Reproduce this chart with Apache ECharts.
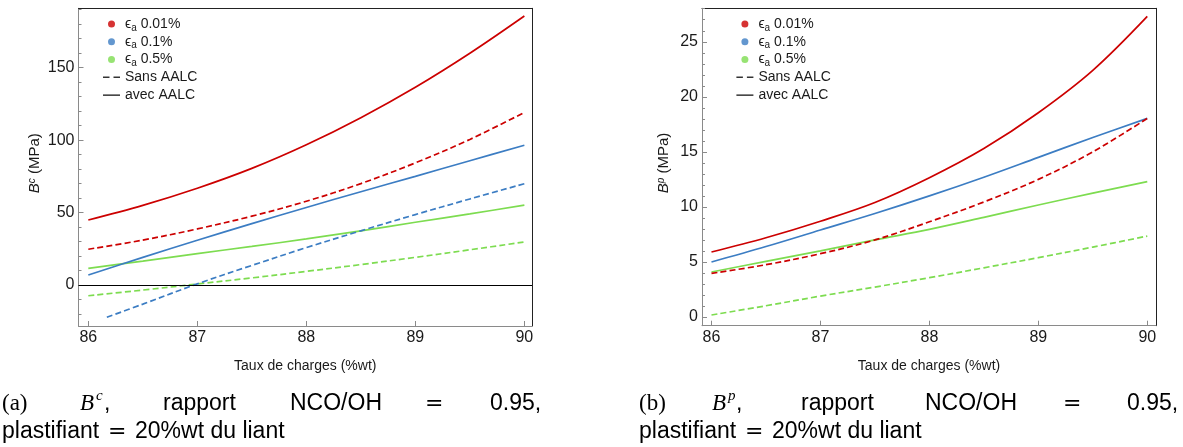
<!DOCTYPE html>
<html><head><meta charset="utf-8">
<script src="https://cdn.jsdelivr.net/npm/echarts@6/dist/echarts.min.js"></script>
<style>html,body{margin:0;padding:0;background:#fff}#c{width:1183px;height:447px}</style>
</head><body><div id="c"></div>
<script>
// ---------- data ----------
const xs = [86, 86.5, 87, 87.5, 88, 88.5, 89, 89.5, 90];
const xsBlueSansC = [86.17, 86.5, 87, 87.5, 88, 88.5, 89, 89.5, 90];

// (a) B^c (MPa)
const bcRedAvec   = [44.9, 55.0, 66.8, 80.5, 96.8, 115.5, 136.5, 160.0, 185.7];
const bcRedSans   = [24.7, 31.0, 38.7, 47.5, 57.8, 70.0, 84.3, 100.5, 119.1];
const bcBlueAvec  = [6.9, 19.1, 30.9, 42.4, 53.5, 64.4, 75.0, 85.8, 96.5];
const bcBlueSans  = [-22.3, -13.2, 0.8, 13.5, 25.8, 37.4, 48.6, 59.4, 69.9];
const bcGreenAvec = [11.5, 16.5, 21.7, 26.6, 31.8, 37.4, 43.3, 49.1, 55.1];
const bcGreenSans = [-7.4, -3.5, 0.7, 4.9, 9.4, 14.1, 19.1, 24.3, 29.7];

// (b) B^p (MPa)
const bpRedAvec   = [5.9, 7.2, 8.7, 10.4, 12.65, 15.3, 18.55, 22.4, 27.3];
const bpRedSans   = [3.96, 4.75, 5.75, 7.0, 8.65, 10.45, 12.5, 15.0, 18.04];
const bpBlueAvec  = [5.0, 6.4, 7.9, 9.4, 11.0, 12.7, 14.5, 16.3, 18.04];
const bpGreenAvec = [4.09, 5.05, 6.0, 7.0, 7.96, 9.05, 10.17, 11.25, 12.3];
const bpGreenSans = [0.18, 1.02, 1.9, 2.72, 3.57, 4.47, 5.39, 6.35, 7.35];

// ticks
const xTicks = [86, 87, 88, 89, 90];
const bcTicks = [0, 50, 100, 150];
const bcMinorTicks = [-20, -10, 10, 20, 30, 40, 60, 70, 80, 90, 110, 120, 130, 140, 160, 170, 180, 190];
const bpTicks = [0, 5, 10, 15, 20, 25];
const bpMinorTicks = [1, 2, 3, 4, 6, 7, 8, 9, 11, 12, 13, 14, 16, 17, 18, 19, 21, 22, 23, 24, 26, 27, 28];

// legend
const epsLabels = ['0.01%', '0.1%', '0.5%'];
const styleLabels = ['Sans AALC', 'avec AALC'];

// ---------- styles ----------
const RED = '#cc0000', BLUE = '#3c7dc3', GREEN = '#7ddc50';
const FONT = '"Liberation Sans", Arial, sans-serif';
const SERIF = '"Liberation Serif", "DejaVu Serif", serif';
const TXT = '#1a1a1a', AXG = '#8a8a8a';
const DASH = [6, 3.2];

const grids = [
  {left: 78.5, top: 8.3, width: 453.5, height: 317.7, xr: [85.91, 90.07], yr: [-28.3, 191], maj: bcTicks, min: bcMinorTicks, sup: 'c', nameGap: 36},
  {left: 702, top: 8.3, width: 454, height: 317.4, xr: [85.913, 90.08], yr: [-0.79, 28.04], maj: bpTicks, min: bpMinorTicks, sup: 'p', nameGap: 31}
];

const xAxis = [], yAxis = [];
grids.forEach((g, i) => {
  xAxis.push({
    gridIndex: i, type: 'value', min: g.xr[0], max: g.xr[1], position: 'bottom',
    axisLine: {onZero: false, lineStyle: {color: AXG, width: 1}},
    axisTick: {inside: true, length: 5, customValues: xTicks, lineStyle: {color: AXG}},
    axisLabel: {customValues: xTicks, fontSize: 16, color: TXT, fontFamily: FONT, margin: 4},
    splitLine: {show: false},
    name: 'Taux de charges (%wt)', nameLocation: 'middle', nameGap: 33,
    nameTextStyle: {fontSize: 14, color: TXT, fontFamily: FONT}
  });
  xAxis.push({
    gridIndex: i, type: 'value', min: g.xr[0], max: g.xr[1], position: 'top',
    axisLine: {onZero: false, lineStyle: {color: '#222', width: 1}},
    axisTick: {show: false}, axisLabel: {show: false}, splitLine: {show: false}
  });
  yAxis.push({
    gridIndex: i, type: 'value', min: g.yr[0], max: g.yr[1], position: 'left',
    axisLine: {onZero: false, lineStyle: {color: AXG, width: 1}},
    axisTick: {inside: true, length: 5, customValues: g.maj, lineStyle: {color: AXG}},
    axisLabel: {customValues: g.maj, fontSize: 16, color: TXT, fontFamily: FONT, margin: 4},
    splitLine: {show: false},
    name: '{b|B}{s|' + g.sup + '} (MPa)', nameLocation: 'middle', nameRotate: 90, nameGap: g.nameGap,
    nameTextStyle: {fontSize: 15, color: TXT, fontFamily: FONT, padding: [0, 0, 0, 8],
      rich: {b: {fontStyle: 'italic', fontSize: 15, fontFamily: FONT, color: TXT},
             s: {fontStyle: 'italic', fontSize: 10, fontFamily: FONT, color: TXT, verticalAlign: 'top', lineHeight: 10}}}
  });
  yAxis.push({
    gridIndex: i, type: 'value', min: g.yr[0], max: g.yr[1], position: 'left',
    axisLine: {show: false},
    axisTick: {inside: true, length: 3, customValues: g.min, lineStyle: {color: AXG}},
    axisLabel: {show: false}, splitLine: {show: false}
  });
  yAxis.push({
    gridIndex: i, type: 'value', min: g.yr[0], max: g.yr[1], position: 'right',
    axisLine: {onZero: false, lineStyle: {color: '#222', width: 1}},
    axisTick: {show: false}, axisLabel: {show: false}, splitLine: {show: false}
  });
});

function pts(xarr, yarr) { return yarr.map((v, k) => [xarr[k], v]); }
function line(gi, xarr, yarr, color, dashed, extra) {
  return Object.assign({
    type: 'line', xAxisIndex: gi * 2, yAxisIndex: gi * 3,
    data: pts(xarr, yarr), smooth: 0.35, symbol: 'none', silent: true,
    lineStyle: {color: color, width: 1.7, type: dashed ? DASH : 'solid'}, z: 3
  }, extra || {});
}

const series = [
  line(0, xs, bcGreenSans, GREEN, true, {name: 'c-g-s'}),
  line(0, xs, bcGreenAvec, GREEN, false, {name: 'c-g-a'}),
  line(0, xsBlueSansC, bcBlueSans, BLUE, true, {name: 'c-b-s'}),
  line(0, xs, bcBlueAvec, BLUE, false, {name: 'c-b-a'}),
  line(0, xs, bcRedSans, RED, true, {name: 'c-r-s'}),
  line(0, xs, bcRedAvec, RED, false, {name: 'c-r-a',
    markLine: {silent: true, symbol: 'none', label: {show: false}, animation: false,
      lineStyle: {color: '#000', width: 1, type: 'solid'}, data: [{yAxis: 0}]}}),
  line(1, xs, bpGreenSans, GREEN, true, {name: 'p-g-s'}),
  line(1, xs, bpGreenAvec, GREEN, false, {name: 'p-g-a'}),
  line(1, xs, bpBlueAvec, BLUE, false, {name: 'p-b-a'}),
  line(1, xs, bpRedSans, RED, true, {name: 'p-r-s'}),
  line(1, xs, bpRedAvec, RED, false, {name: 'p-r-a'})
];
// legend-only series
[RED, BLUE, GREEN].forEach((c, k) => series.push({type: 'scatter', name: epsLabels[k], data: [], xAxisIndex: 0, yAxisIndex: 0, itemStyle: {color: c}}));
styleLabels.forEach(n => series.push({type: 'scatter', name: n, data: [], xAxisIndex: 0, yAxisIndex: 0, itemStyle: {color: '#000'}}));

const dashIcon = 'path://M0,0L0,0M17,7L17,7M0,2.8L6.5,2.8L6.5,4.3L0,4.3ZM10.5,2.8L17,2.8L17,4.3L10.5,4.3Z';
const solidIcon = 'path://M0,0L0,0M17,7L17,7M0,2.8L17,2.8L17,4.3L0,4.3Z';
function legendAt(left) {
  return {
    orient: 'vertical', left: left, top: 15, itemWidth: 17, itemHeight: 7, itemGap: 0,
    selectedMode: false, padding: 0,
    data: epsLabels.map(n => ({name: n, icon: 'circle'}))
      .concat([{name: styleLabels[0], icon: dashIcon}, {name: styleLabels[1], icon: solidIcon}]),
    formatter: n => epsLabels.indexOf(n) >= 0 ? '{e|ϵ}{s|a} ' + n : n,
    textStyle: {fontSize: 14, lineHeight: 17.8, color: TXT, fontFamily: FONT,
      rich: {e: {fontSize: 14, lineHeight: 17.8, fontFamily: FONT, color: TXT},
             s: {fontSize: 10, lineHeight: 10, verticalAlign: 'bottom', fontFamily: FONT, color: TXT}}}
  };
}

// captions
function t(x, y, text, font) {
  return {type: 'text', x: x, y: y, silent: true, style: {text: text, font: font, fill: '#000', verticalAlign: 'middle'}};
}
const CS = '23px ' + FONT, CR = '23px ' + SERIF, CI = 'italic 23px ' + SERIF, CIs = 'italic 15px ' + SERIF;
const CEQ = '22px "DejaVu Sans", sans-serif';
function caption(x0, lab, sup, xs6) {
  const y1 = 404, y2 = 432;
  return [
    t(x0 + xs6[0], y1, lab, CR),
    t(x0 + xs6[1], y1, 'B', CI),
    t(x0 + xs6[1] + 16, y1 - 8, sup, CIs),
    t(x0 + xs6[1] + 24, y1, ',', CS),
    t(x0 + xs6[2], y1, 'rapport', CS),
    t(x0 + xs6[3], y1, 'NCO/OH', CS),
    t(x0 + xs6[4], y1, '=', CEQ),
    t(x0 + xs6[5], y1, '0.95,', CS),
    t(x0 + xs6[0], y2, 'plastifiant', CS),
    t(x0 + xs6[0] + 106, y2, '=', CEQ),
    t(x0 + xs6[0] + 133, y2, '20%wt du liant', CS)
  ];
}
const graphic = caption(0, '(a)', 'c', [2, 80, 163, 290, 425, 490])
  .concat(caption(0, '(b)', 'p', [639, 712, 801, 925, 1063, 1127]));

const chart = echarts.init(document.getElementById('c'));
chart.setOption({
  animation: false,
  backgroundColor: '#fff',
  grid: grids.map(g => ({left: g.left, top: g.top, width: g.width, height: g.height, containLabel: false})),
  xAxis: xAxis, yAxis: yAxis, series: series,
  legend: [legendAt(103), legendAt(736.4)],
  graphic: graphic
});
</script></body></html>
